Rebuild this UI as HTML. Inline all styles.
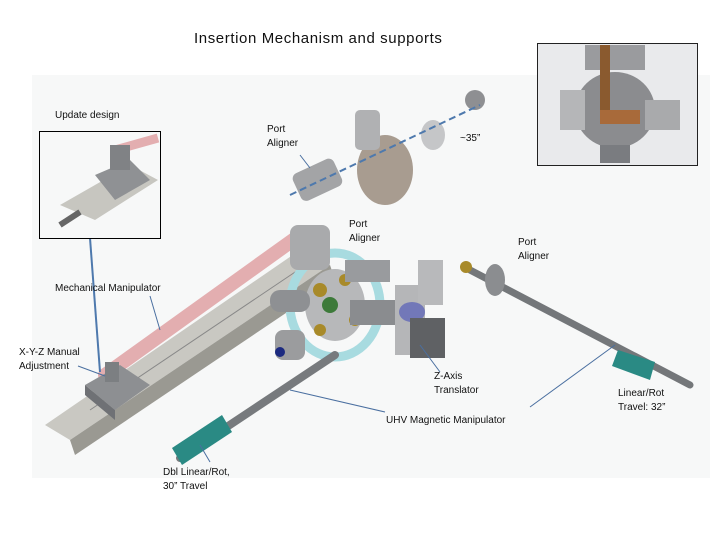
<!DOCTYPE html>
<html><head><meta charset="utf-8"><style>
body{margin:0;width:720px;height:540px;background:#fff;overflow:hidden;font-family:"Liberation Sans",sans-serif}
.t{position:absolute;font-size:10px;color:#111;line-height:14px}
</style></head><body>
<svg width="720" height="540" style="position:absolute;left:0;top:0">
<rect x="32" y="75" width="678" height="403" fill="#f7f8f8"/>
<polygon points="45,425 70,440 330,265 300,250" fill="#c9c8c2"/>
<polygon points="70,440 75,455 335,280 330,265" fill="#9a9992"/>
<line x1="90" y1="410" x2="310" y2="262" stroke="#888" stroke-width="1"/>
<line x1="105" y1="375" x2="300" y2="235" stroke="#e3aeb0" stroke-width="14" stroke-linecap="round"/>
<polygon points="85,385 120,365 150,385 115,410" fill="#8d8f92"/>
<polygon points="85,385 115,410 115,420 85,395" fill="#6f7175"/>
<rect x="105" y="362" width="14" height="20" fill="#7c7f82"/>
<ellipse cx="335" cy="305" rx="45" ry="52" fill="none" stroke="#a8dbe0" stroke-width="9"/>
<ellipse cx="335" cy="305" rx="30" ry="36" fill="#b7b8ba"/>
<circle cx="320" cy="290" r="7" fill="#a88a2a"/><circle cx="345" cy="280" r="6" fill="#a88a2a"/>
<circle cx="355" cy="320" r="6" fill="#a88a2a"/><circle cx="320" cy="330" r="6" fill="#a88a2a"/>
<circle cx="330" cy="305" r="8" fill="#3d7a3a"/>
<rect x="290" y="225" width="40" height="45" rx="8" fill="#a9aaac"/>
<rect x="270" y="290" width="40" height="22" rx="10" fill="#8e9093"/>
<rect x="345" y="260" width="45" height="22" fill="#999b9e"/>
<rect x="350" y="300" width="55" height="25" fill="#8a8c8f"/>
<rect x="395" y="285" width="30" height="70" fill="#b5b6b8"/>
<rect x="418" y="260" width="25" height="45" fill="#b8b9bb"/>
<ellipse cx="412" cy="312" rx="13" ry="10" fill="#7278b8"/>
<rect x="410" y="318" width="35" height="40" fill="#5f6164"/>
<rect x="275" y="330" width="30" height="30" rx="8" fill="#9b9c9e"/>
<circle cx="280" cy="352" r="5" fill="#1c2a80"/>
<rect x="295" y="165" width="45" height="30" rx="6" fill="#a3a4a6" transform="rotate(-25 317 180)"/>
<ellipse cx="385" cy="170" rx="28" ry="35" fill="#a89c90"/>
<rect x="355" y="110" width="25" height="40" rx="5" fill="#b0b1b3"/>
<ellipse cx="433" cy="135" rx="12" ry="15" fill="#c5c6c8"/>
<circle cx="475" cy="100" r="10" fill="#8e8f92"/>
<line x1="290" y1="195" x2="480" y2="105" stroke="#4e79ad" stroke-width="2" stroke-dasharray="7,4"/>
<line x1="180" y1="458" x2="335" y2="355" stroke="#777a7d" stroke-width="8" stroke-linecap="round"/>
<polygon points="172,448 222,415 232,432 182,465" fill="#2a8a84"/>
<line x1="470" y1="270" x2="690" y2="385" stroke="#74777a" stroke-width="7" stroke-linecap="round"/>
<polygon points="618,350 655,362 650,380 612,366" fill="#2a8a84"/>
<ellipse cx="495" cy="280" rx="10" ry="16" fill="#8b8d90"/>
<circle cx="466" cy="267" r="6" fill="#a88a2a"/>
<g stroke="#4a6fa0" stroke-width="1" fill="none">
<line x1="150" y1="296" x2="160" y2="330"/>
<line x1="78" y1="366" x2="105" y2="376"/>
<line x1="440" y1="372" x2="420" y2="345"/>
<line x1="530" y1="407" x2="615" y2="345"/>
<line x1="210" y1="462" x2="200" y2="445"/>
<line x1="300" y1="155" x2="310" y2="168"/>
<line x1="385" y1="412" x2="290" y2="390"/>
</g>
<line x1="90" y1="238" x2="100" y2="372" stroke="#4e79ad" stroke-width="2"/>
<rect x="39.5" y="131.5" width="121" height="107" fill="#f7f8f8" stroke="#000"/>
<line x1="115" y1="150" x2="158" y2="138" stroke="#e3aeb0" stroke-width="9"/>
<polygon points="60,205 95,220 158,180 130,165" fill="#c7c6c0"/>
<polygon points="95,175 130,160 150,180 115,200" fill="#8f9194"/>
<rect x="110" y="145" width="20" height="25" fill="#808285"/>
<line x1="60" y1="225" x2="80" y2="212" stroke="#666" stroke-width="6"/>
<rect x="537.5" y="43.5" width="160" height="122" fill="#e9eaec" stroke="#222"/>
<ellipse cx="615" cy="110" rx="40" ry="38" fill="#8b8c8f"/>
<rect x="585" y="45" width="60" height="25" fill="#9a9b9e"/>
<rect x="600" y="45" width="10" height="75" fill="#8a5a2f"/>
<rect x="600" y="110" width="40" height="14" fill="#a86a3a"/>
<rect x="560" y="90" width="25" height="40" fill="#b5b6b8"/>
<rect x="645" y="100" width="35" height="30" fill="#a9aaac"/>
<rect x="600" y="145" width="30" height="18" fill="#7a7c80"/>
</svg>
<div class="t" style="left:194px;top:30px;font-size:15px;line-height:17px;letter-spacing:0.6px">Insertion Mechanism and supports</div>
<div class="t" style="left:55px;top:109px">Update design</div>
<div class="t" style="left:267px;top:123px">Port<br>Aligner</div>
<div class="t" style="left:460px;top:132px">~35”</div>
<div class="t" style="left:349px;top:218px">Port<br>Aligner</div>
<div class="t" style="left:518px;top:236px">Port<br>Aligner</div>
<div class="t" style="left:55px;top:282px">Mechanical Manipulator</div>
<div class="t" style="left:19px;top:346px">X-Y-Z Manual<br>Adjustment</div>
<div class="t" style="left:434px;top:370px">Z-Axis<br>Translator</div>
<div class="t" style="left:618px;top:387px">Linear/Rot<br>Travel: 32”</div>
<div class="t" style="left:386px;top:414px">UHV Magnetic Manipulator</div>
<div class="t" style="left:163px;top:466px">Dbl Linear/Rot,<br>30” Travel</div>
</body></html>
